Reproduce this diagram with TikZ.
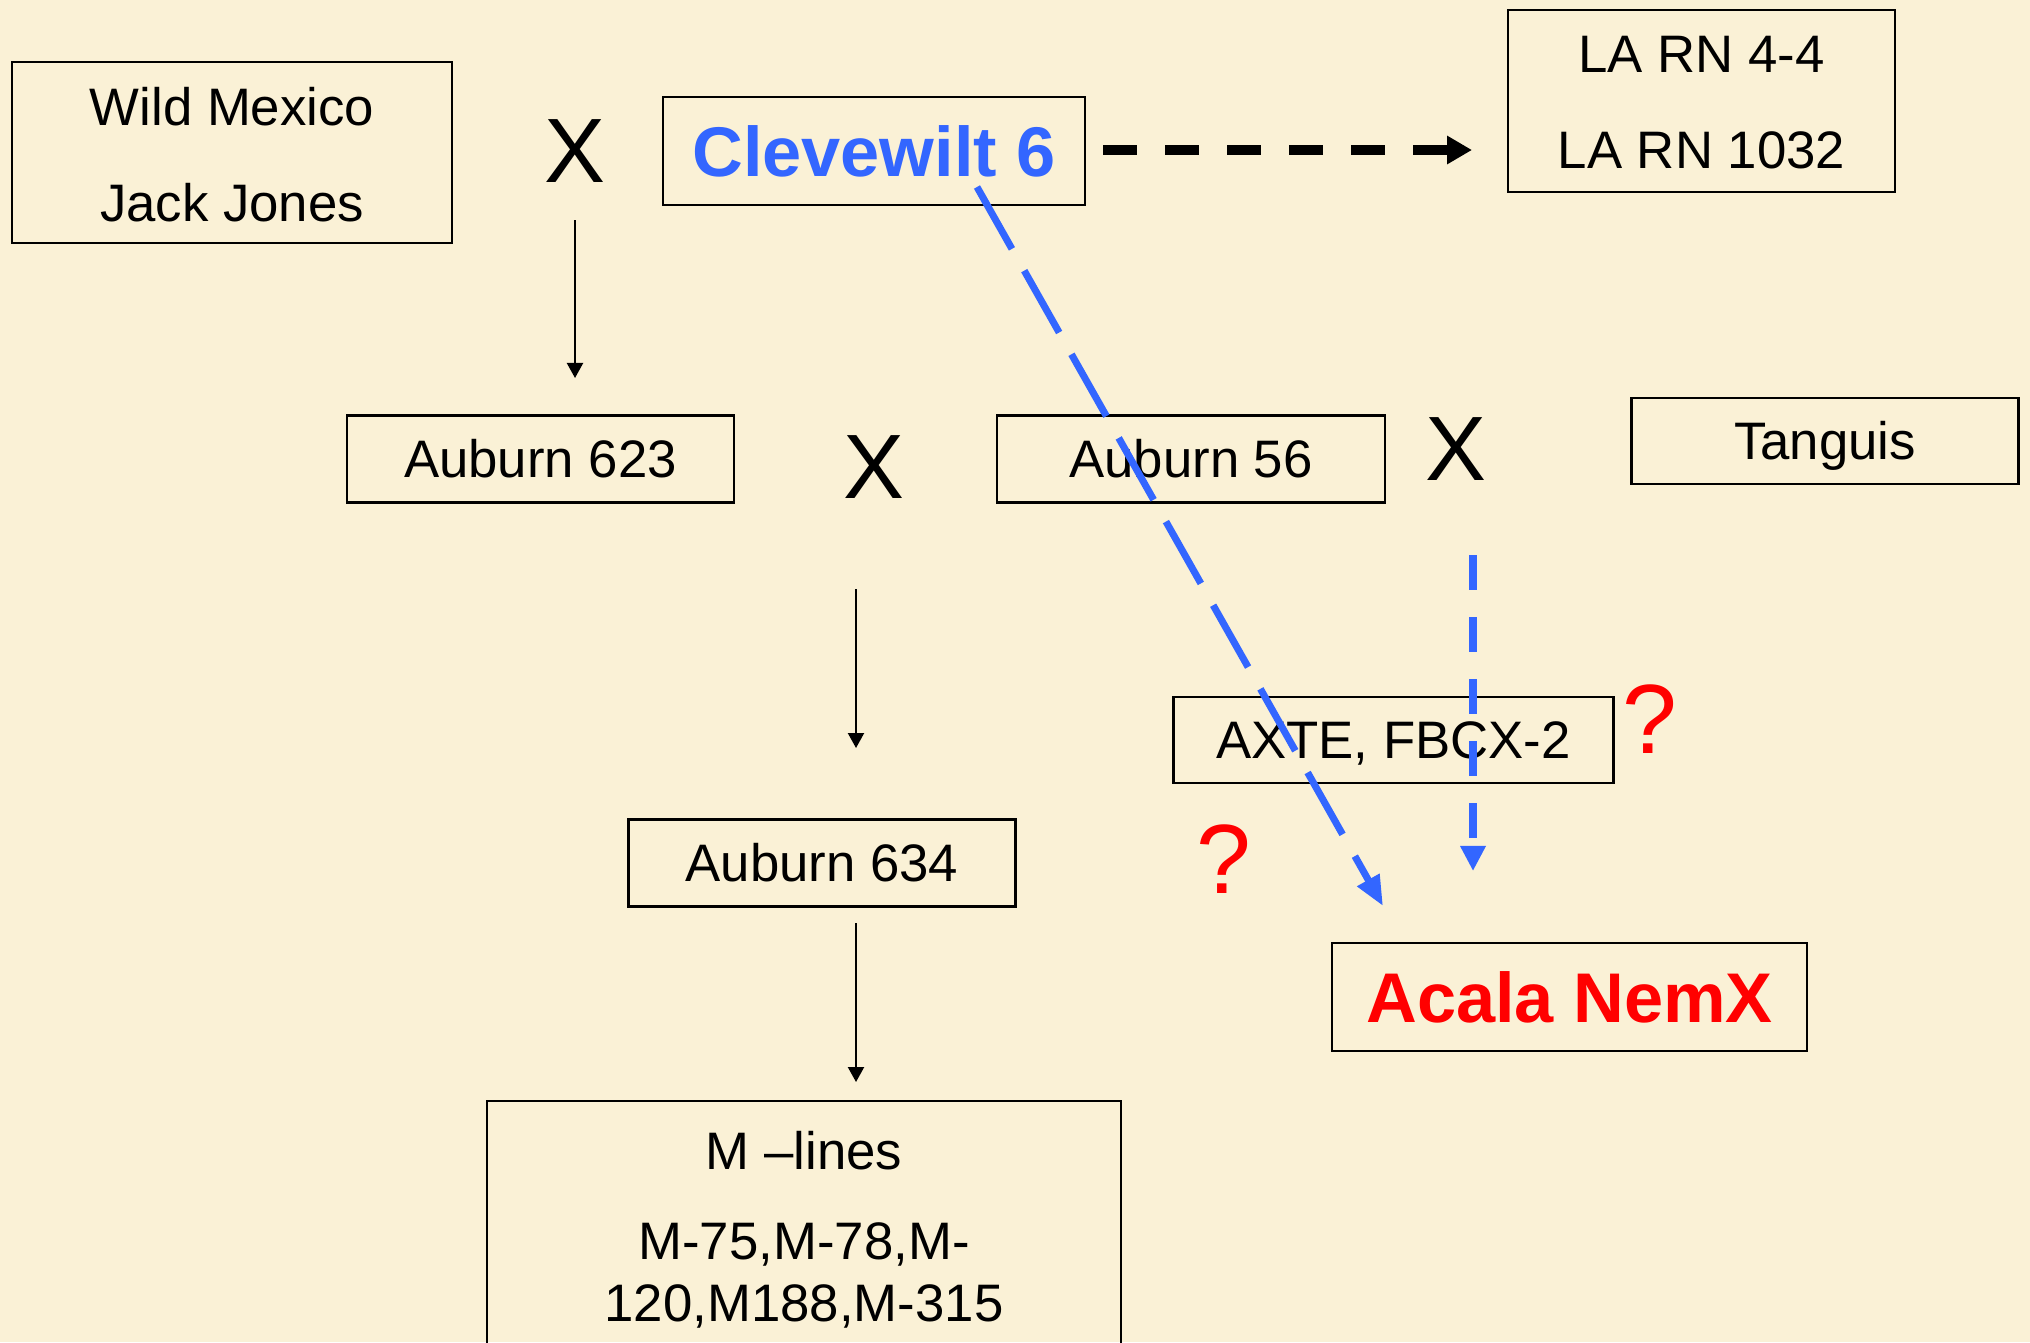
\documentclass[tikz,border=0pt]{standalone}
\usepackage{fontspec}
\setmainfont{Liberation Sans}
\usetikzlibrary{arrows.meta}
\definecolor{bg}{RGB}{250,241,214}
\definecolor{cblue}{RGB}{51,102,255}
\definecolor{cred}{RGB}{255,0,0}
\begin{document}
\begin{tikzpicture}[x=0.01cm,y=-0.01cm,
  box/.style={draw=black, line width=0.7pt, inner sep=0pt, text height=10.74pt, text depth=0pt, font=\fontsize{15}{18}\selectfont},
  bigbox/.style={box, text height=14.32pt, font=\fontsize{20}{24}\selectfont\bfseries},
  lbl/.style={inner sep=0pt, text height=10.74pt, text depth=0pt, font=\fontsize{15}{18}\selectfont},
  cross/.style={inner sep=0pt, text height=18.6pt, text depth=0pt, font=\fontsize{26}{30}\selectfont},
  qmark/.style={inner sep=0pt, text=cred, text height=20.4pt, text depth=0pt, font=\fontsize{28}{32}\selectfont},
  thinarrow/.style={line width=0.6pt, -{Triangle[length=0.15cm,width=0.16cm]}},
  blackdash/.style={line width=0.1cm, dash pattern=on 0.34cm off 0.28cm, -{Triangle[length=0.25cm,width=0.27cm]}},
  bluediag/.style={cblue, line width=0.07cm, dash pattern=on 0.71cm off 0.25cm, -{Triangle[length=0.3cm,width=0.24cm]}},
  bluevert/.style={cblue, line width=0.08cm, dash pattern=on 0.35cm off 0.27cm, -{Triangle[length=0.25cm,width=0.24cm]}}
]
\fill[bg] (0,0) rectangle (2030,1342);
\useasboundingbox (0,0) rectangle (2030,1342);
\clip (0,0) rectangle (2030,1342);

% boxes
\node[box, minimum width=4.40cm, minimum height=1.81cm] (wm) at (232,152.5) {};
\node[lbl] (wmA) at (232,107) {Wild Mexico};
\node[lbl] (wmB) at (232,203) {Jack Jones};

\node[bigbox, minimum width=4.22cm, minimum height=1.08cm, text=cblue] (cw) at (874,151) {Clevewilt 6};

\node[box, minimum width=3.87cm, minimum height=1.82cm] (la) at (1701.5,101) {};
\node[lbl] (laA) at (1701.5,54) {LA RN 4-4};
\node[lbl] (laB) at (1701.5,150) {LA RN 1032};

\node[box, minimum width=3.87cm, minimum height=0.87cm] (a623) at (540.5,459) {Auburn 623};
\node[box, minimum width=3.88cm, minimum height=0.87cm] (a56) at (1191,459) {Auburn 56};
\node[box, minimum width=3.87cm, minimum height=0.86cm] (tg) at (1825,441) {Tanguis};
\node[box, minimum width=4.40cm, minimum height=0.86cm] (ax) at (1393.5,740) {AXTE, FBCX-2};
\node[box, minimum width=3.87cm, minimum height=0.87cm] (a634) at (822,863) {Auburn 634};
\node[bigbox, minimum width=4.75cm, minimum height=1.08cm, text=cred] (ac) at (1569.5,997) {Acala NemX};

\node[box, minimum width=6.34cm, minimum height=2.60cm] (ml) at (804,1231) {};
\node[lbl] (mlA) at (804,1151) {M –lines};
\node[lbl] (mlB) at (804,1241) {M-75,M-78,M-};
\node[lbl] (mlC) at (804,1303) {120,M188,M-315};

% crosses
\node[cross] (x1) at (575,150) {X};
\node[cross] (x2) at (874,466) {X};
\node[cross] (x3) at (1456,448) {X};

% question marks
\node[qmark] (q1) at (1650,718) {?};
\node[qmark] (q2) at (1224,858) {?};

% connector ends
\coordinate (x1s) at (575,220);
\coordinate (x1e) at (575,378);
\coordinate (x2s) at (856,589);
\coordinate (x2e) at (856,748);
\coordinate (a634s) at (856,923);
\coordinate (a634e) at (856,1082);
\coordinate (cwr) at (1103,150);
\coordinate (lal) at (1472,150);
\coordinate (cwb) at (977,187);
\coordinate (acl) at (1383,906);
\coordinate (x3s) at (1473,555);
\coordinate (act) at (1473,871);

% connectors
\draw[thinarrow] (x1s) -- (x1e);
\draw[thinarrow] (x2s) -- (x2e);
\draw[thinarrow] (a634s) -- (a634e);
\draw[blackdash] (cwr) -- (lal);
\draw[bluediag] (cwb) -- (acl);
\draw[bluevert] (x3s) -- (act);
\end{tikzpicture}
\end{document}
